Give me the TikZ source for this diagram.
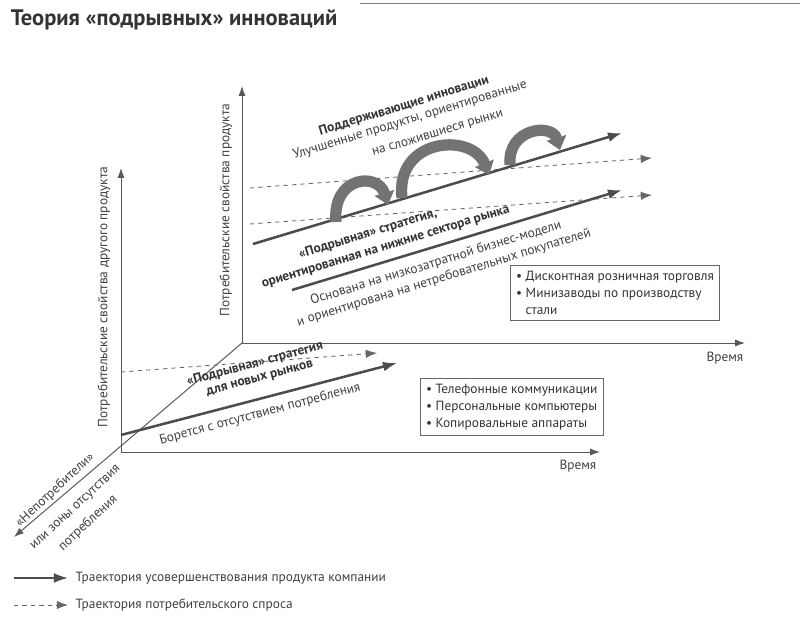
\documentclass[tikz,border=0pt]{standalone}
\usepackage{fontspec}
\setmainfont{PT Sans}
\usetikzlibrary{arrows.meta}
\begin{document}
\begin{tikzpicture}[x=0.025cm,y=-0.025cm,
axis/.style={draw=black!65,line width=0.7pt,-{Latex[length=7pt,width=5pt]}},
traj/.style={draw=black!70,line width=1.8pt,-{Latex[length=10pt,width=7pt]}},
demand/.style={draw=black!60,dashed,line width=0.6pt,-{Latex[length=8pt,width=6pt]}},
hook/.style={draw=black!55,line width=8pt,-{Triangle[length=9pt,width=14pt]}},
lbl/.style={font=\fontsize{9.5}{10}\selectfont,text=black!75,inner sep=1pt},
blbl/.style={font=\fontsize{9.5}{10}\selectfont\bfseries,text=black!80,inner sep=1pt},
listbox/.style={draw=black!60,line width=0.7pt,font=\fontsize{9.5}{12}\selectfont,text=black!80,align=left,inner sep=4pt,anchor=north west}]
\useasboundingbox (0,0) rectangle (800,629);
\draw[black!50,line width=0.6pt] (360,3) -- (800,3);
\node (title) [anchor=west,font=\fontsize{16}{17}\selectfont\bfseries,text=black!80] at (6,20) {Теория «подрывных» инноваций};

% back plane
\coordinate (o2) at (242,343);
\coordinate (y2) at (242,86);
\coordinate (x2) at (745,343);
\draw[axis] (o2) -- (y2);
\draw[axis] (o2) -- (x2);
\node (t2) [lbl,anchor=north east] at (745,350) {Время};
\node (v2) [lbl,rotate=90] at (226,210) {Потребительские свойства продукта};
\coordinate (d1a) at (250,188); \coordinate (d1b) at (652,158);
\coordinate (d2a) at (250,224); \coordinate (d2b) at (652,195);
\coordinate (s1a) at (253,244); \coordinate (s1b) at (622,133);
\coordinate (s2a) at (292,290); \coordinate (s2b) at (622,190);
\draw[demand] (d1a) -- (d1b);
\draw[demand] (d2a) -- (d2b);
\draw[traj] (s1a) -- (s1b);
\draw[traj] (s2a) -- (s2b);
\draw[hook] (336,222) .. controls (332,176) and (378,172) .. (388,205);
\draw[hook] (402,198) .. controls (395,138) and (472,132) .. (489,175);
\draw[hook] (510,165) .. controls (507,128) and (552,123) .. (560,150);
\node (sus) [blbl,rotate=17] at (404,106) {Поддерживающие инновации};
\node (sus1) [lbl,rotate=17] at (410,120) {Улучшенные продукты, ориентированные};
\node (sus2) [lbl,rotate=17] at (438,134) {на сложившиеся рынки};
\node (low) [blbl,rotate=17] at (368,234) {«Подрывная» стратегия,};
\node (low1) [blbl,rotate=17] at (386,248) {ориентированная на нижние сектора рынка};
\node (low2) [lbl,rotate=17] at (436,263) {Основана на низкозатратной бизнес-модели};
\node (low3) [lbl,rotate=17] at (444,278) {и ориентирована на нетребовательных покупателей};
\node (box2) [listbox] at (510,265) {%
• Дисконтная розничная торговля\\
• Минизаводы по производству\\
\phantom{• }стали};

% front plane
\coordinate (o1) at (121,452);
\coordinate (y1) at (121,168);
\coordinate (x1) at (600,452);
\coordinate (z1) at (14,537);
\draw[axis] (o1) -- (y1);
\draw[axis] (o1) -- (x1);
\draw[axis] (o2) -- (z1);
\node (t1) [lbl,anchor=north east] at (598,458) {Время};
\node (v1) [lbl,rotate=90] at (104,297) {Потребительские свойства другого продукта};
\coordinate (d3a) at (121,372); \coordinate (d3b) at (377,353);
\coordinate (s3a) at (121,435); \coordinate (s3b) at (397,363);
\draw[demand] (d3a) -- (d3b);
\draw[traj] (s3a) -- (s3b);
\node (new) [blbl,rotate=15] at (255,364) {«Подрывная» стратегия};
\node (new1) [blbl,rotate=15] at (260,379) {для новых рынков};
\node (new2) [lbl,rotate=15] at (260,414) {Борется с отсутствием потребления};
\node (non) [lbl,rotate=43] at (55,490) {«Непотребители»};
\node (non1) [lbl,rotate=43] at (76,508) {или зоны отсутствия};
\node (non2) [lbl,rotate=43] at (88,523) {потребления};
\node (box1) [listbox] at (420,378) {%
• Телефонные коммуникации\\
• Персональные компьютеры\\
• Копировальные аппараты};

% legend
\coordinate (l1a) at (14,578); \coordinate (l1b) at (68,578);
\coordinate (l2a) at (14,605); \coordinate (l2b) at (68,605);
\draw[traj,line width=1.4pt] (l1a) -- (l1b);
\draw[demand] (l2a) -- (l2b);
\node (leg1) [lbl,anchor=west] at (74,578) {Траектория усовершенствования продукта компании};
\node (leg2) [lbl,anchor=west] at (74,605) {Траектория потребительского спроса};
\end{tikzpicture}
\end{document}
